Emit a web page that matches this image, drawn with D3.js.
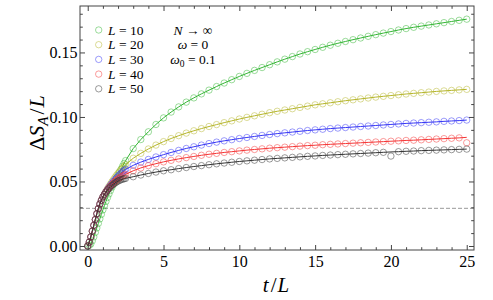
<!DOCTYPE html>
<html>
<head>
<meta charset="utf-8">
<script src="https://cdn.jsdelivr.net/npm/d3@7/dist/d3.min.js"></script>
<style>
  html, body { margin: 0; padding: 0; background: #fff; }
  svg { display: block; }
  svg text { font-family: "Liberation Serif", "DejaVu Serif", serif !important; }
</style>
</head>
<body>
<svg id="chart" width="493" height="300"></svg>
<script>
// ---------- DATA ----------
const tDense = [0, 0.1, 0.2, 0.3, 0.4, 0.5, 0.6, 0.7, 0.8, 0.9, 1.0, 1.1, 1.2, 1.3, 1.4, 1.5, 1.6, 1.7, 1.8, 1.9, 2.0, 2.1, 2.2, 2.3, 2.4];
const tSparse = [2.5, 3, 3.5, 4, 4.5, 5, 5.5, 6, 6.5, 7, 7.5, 8, 8.5, 9, 9.5, 10, 10.5, 11, 11.5, 12,
  12.5, 13, 13.5, 14, 14.5, 15, 15.5, 16, 16.5, 17, 17.5, 18, 18.5, 19, 19.5, 20, 20.5, 21, 21.5, 22,
  22.5, 23, 23.5, 24, 24.5, 25];

const seriesNames = ["L = 10", "L = 20", "L = 30", "L = 40", "L = 50"];
const seriesSizes = [10, 20, 30, 40, 50];

const valuesL10 = [0, 0.0005, 0.0015, 0.004, 0.007, 0.0105, 0.014, 0.0175, 0.021, 0.0245, 0.028, 0.0313, 0.0345, 0.0375, 0.0403, 0.043, 0.0455, 0.048, 0.0503, 0.0527, 0.055, 0.0572, 0.0595, 0.0618, 0.064,
  0.0662, 0.0755, 0.0825, 0.0885, 0.0942, 0.0993, 0.1038, 0.1078, 0.1115, 0.1148, 0.1179, 0.1208, 0.1236, 0.1263, 0.1289, 0.1314, 0.1338, 0.1361, 0.1383, 0.1405,
  0.1427, 0.1448, 0.1468, 0.1488, 0.1506, 0.1523, 0.154, 0.1556, 0.1571, 0.1585, 0.1599, 0.1612, 0.1625, 0.1638, 0.165, 0.1662, 0.1674, 0.1685, 0.1695, 0.1704,
  0.1713, 0.1722, 0.1731, 0.174, 0.1749, 0.1758];
const valuesL20 = [0, 0.003, 0.007, 0.0115, 0.016, 0.0205, 0.025, 0.029, 0.0325, 0.0355, 0.038, 0.0402, 0.0423, 0.0443, 0.0462, 0.048, 0.0498, 0.0515, 0.0532, 0.0548, 0.0563, 0.0577, 0.0591, 0.0604, 0.0617,
  0.063, 0.068, 0.0718, 0.0752, 0.0782, 0.0809, 0.0833, 0.0855, 0.0875, 0.0893, 0.091, 0.0926, 0.0941, 0.0956, 0.097, 0.0984, 0.0997, 0.1009, 0.1021, 0.1033,
  0.1044, 0.1054, 0.1064, 0.1074, 0.1084, 0.1094, 0.1102, 0.111, 0.1118, 0.1126, 0.1133, 0.114, 0.1147, 0.1154, 0.116, 0.1166, 0.1172, 0.1178, 0.1183, 0.1188,
  0.1193, 0.1198, 0.1202, 0.1206, 0.121, 0.1214];
const valuesL30 = [0, 0.003, 0.007, 0.0115, 0.016, 0.0205, 0.025, 0.029, 0.0325, 0.0355, 0.038, 0.0401, 0.042, 0.0438, 0.0455, 0.0471, 0.0486, 0.05, 0.0514, 0.0527, 0.054, 0.0552, 0.0564, 0.0575, 0.0585,
  0.0594, 0.0625, 0.065, 0.0671, 0.069, 0.0708, 0.0725, 0.0741, 0.0756, 0.0769, 0.0782, 0.0794, 0.0805, 0.0815, 0.0824, 0.0833, 0.0841, 0.0849, 0.0857, 0.0864,
  0.0871, 0.0877, 0.0883, 0.0889, 0.0895, 0.09, 0.0905, 0.091, 0.0914, 0.0918, 0.0922, 0.0926, 0.093, 0.0934, 0.0938, 0.0942, 0.0946, 0.095, 0.0953, 0.0956,
  0.0959, 0.0962, 0.0966, 0.0969, 0.0972, 0.0976];
const valuesL40 = [0, 0.003, 0.007, 0.0115, 0.016, 0.0205, 0.025, 0.029, 0.0325, 0.0355, 0.038, 0.04, 0.0418, 0.0435, 0.045, 0.0464, 0.0477, 0.0489, 0.05, 0.051, 0.0519, 0.0527, 0.0535, 0.0542, 0.0549,
  0.0555, 0.0583, 0.0605, 0.0623, 0.0638, 0.0652, 0.0664, 0.0675, 0.0685, 0.0694, 0.0703, 0.0711, 0.0718, 0.0725, 0.0731, 0.0737, 0.0743, 0.0748, 0.0753, 0.0758,
  0.0762, 0.0766, 0.077, 0.0774, 0.0778, 0.0781, 0.0785, 0.0788, 0.0791, 0.0794, 0.0797, 0.08, 0.0803, 0.0806, 0.0809, 0.0812, 0.0815, 0.0818, 0.082, 0.0823,
  0.0826, 0.0829, 0.0832, 0.0835, 0.0838, 0.0842];
const valuesL50 = [0, 0.003, 0.007, 0.0115, 0.016, 0.0205, 0.025, 0.029, 0.0325, 0.0355, 0.038, 0.04, 0.0417, 0.0432, 0.0446, 0.0458, 0.0469, 0.0479, 0.0488, 0.0496, 0.0503, 0.0509, 0.0514, 0.0518, 0.0521,
  0.0524, 0.0537, 0.055, 0.0562, 0.0573, 0.0583, 0.0591, 0.06, 0.0608, 0.0616, 0.0623, 0.063, 0.0637, 0.0643, 0.0649, 0.0655, 0.066, 0.0665, 0.067, 0.0675,
  0.0679, 0.0683, 0.0687, 0.0691, 0.0695, 0.0698, 0.0702, 0.0705, 0.0708, 0.0711, 0.0714, 0.0717, 0.072, 0.0723, 0.0726, 0.0729, 0.0731, 0.0734, 0.0736, 0.0739,
  0.0741, 0.0743, 0.0745, 0.0747, 0.0749, 0.0751];

// numerical glitches in the sampled points (markers only)
const markerOutliers = [
  { series: 3, t: 25, value: 0.080 },
  { series: 4, t: 20, value: 0.0697 }
];

const saturationLevel = 0.0292;   // dashed horizontal line
const xTickValues = [0, 5, 10, 15, 20, 25];
const yTickValues = [0.00, 0.05, 0.10, 0.15];

// ---------- LAYOUT ----------
const FONT = "'Liberation Serif', 'DejaVu Serif', serif";
const colors = ["#33b533", "#b5b52a", "#3535f5", "#f53535", "#333333"];
const svg = d3.select("#chart").attr("font-family", FONT);
const frame = { left: 80, right: 474, top: 6, bottom: 250 };
const x = d3.scaleLinear().domain([-0.51, 25.48]).range([frame.left, frame.right]);
const y = d3.scaleLinear().domain([-0.0031, 0.186]).range([frame.bottom, frame.top]);

const tAll = tDense.concat(tSparse);
const allValues = [valuesL10, valuesL20, valuesL30, valuesL40, valuesL50];
const series = allValues.map((vals, i) => ({
  name: seriesNames[i],
  size: seriesSizes[i],
  color: colors[i],
  points: tAll.map((t, j) => ({ t, v: vals[j] }))
}));

svg.append("defs").append("clipPath").attr("id", "clip")
  .append("rect").attr("x", frame.left).attr("y", frame.top)
  .attr("width", frame.right - frame.left).attr("height", frame.bottom - frame.top);

svg.append("line")
  .attr("x1", frame.left).attr("x2", frame.right)
  .attr("y1", y(saturationLevel)).attr("y2", y(saturationLevel))
  .attr("stroke", "#9a9a9a").attr("stroke-width", 1).attr("stroke-dasharray", "4,2");

const plot = svg.append("g").attr("clip-path", "url(#clip)");
const line = d3.line().x(d => x(d.t)).y(d => y(d.v));

series.forEach((s, i) => {
  const g = plot.append("g");
  g.selectAll("circle").data(s.points).enter().append("circle")
    .attr("cx", d => x(d.t))
    .attr("cy", d => {
      const o = markerOutliers.find(m => m.series === i && m.t === d.t);
      return y(o ? o.value : d.v);
    })
    .attr("r", 3.2)
    .attr("fill", "none")
    .attr("stroke", s.color)
    .attr("stroke-opacity", 0.55)
    .attr("stroke-width", 0.9);
  g.append("path").datum(s.points)
    .attr("d", line)
    .attr("fill", "none")
    .attr("stroke", s.color)
    .attr("stroke-width", 1);
});

svg.append("rect")
  .attr("x", frame.left).attr("y", frame.top)
  .attr("width", frame.right - frame.left).attr("height", frame.bottom - frame.top)
  .attr("fill", "none").attr("stroke", "#444").attr("stroke-width", 1);

const xMinor = d3.range(0, 26, 1).filter(v => v % 5 !== 0);
const yMinor = d3.range(0, 0.185, 0.01).filter(v => Math.round(v * 100) % 5 !== 0);

function styleAxis(g) {
  g.attr("font-family", FONT).attr("font-size", 16);
  g.select(".domain").remove();
  g.selectAll("line").attr("stroke", "#444");
  g.selectAll("text").attr("fill", "#000");
}

svg.append("g").attr("transform", `translate(0,${frame.bottom})`)
  .call(d3.axisBottom(x).tickValues(xTickValues).tickSize(-5).tickPadding(6).tickFormat(d3.format("d")))
  .call(styleAxis);
svg.append("g").attr("transform", `translate(0,${frame.bottom})`)
  .call(d3.axisBottom(x).tickValues(xMinor).tickSize(-2.8).tickFormat(""))
  .call(styleAxis);
svg.append("g").attr("transform", `translate(0,${frame.top})`)
  .call(d3.axisTop(x).tickValues(xTickValues).tickSize(-5).tickFormat(""))
  .call(styleAxis);
svg.append("g").attr("transform", `translate(0,${frame.top})`)
  .call(d3.axisTop(x).tickValues(xMinor).tickSize(-2.8).tickFormat(""))
  .call(styleAxis);
svg.append("g").attr("transform", `translate(${frame.left},0)`)
  .call(d3.axisLeft(y).tickValues(yTickValues).tickSize(-5).tickPadding(2.5).tickFormat(d3.format(".2f")))
  .call(styleAxis);
svg.append("g").attr("transform", `translate(${frame.left},0)`)
  .call(d3.axisLeft(y).tickValues(yMinor).tickSize(-2.8).tickFormat(""))
  .call(styleAxis);
svg.append("g").attr("transform", `translate(${frame.right},0)`)
  .call(d3.axisRight(y).tickValues(yTickValues).tickSize(-5).tickFormat(""))
  .call(styleAxis);
svg.append("g").attr("transform", `translate(${frame.right},0)`)
  .call(d3.axisRight(y).tickValues(yMinor).tickSize(-2.8).tickFormat(""))
  .call(styleAxis);

const xt = svg.append("text").attr("x", 276).attr("y", 292).attr("text-anchor", "middle")
  .style("font-size", "21px");
xt.append("tspan").style("font-style", "italic").text("t");
xt.append("tspan").attr("dx", 2).text("/");
xt.append("tspan").attr("dx", 1).style("font-style", "italic").text("L");

const yt = svg.append("text").attr("transform", "translate(44,123) rotate(-90)")
  .attr("text-anchor", "middle").style("font-size", "22px");
yt.append("tspan").text("Δ");
yt.append("tspan").style("font-style", "italic").text("S");
yt.append("tspan").style("font-style", "italic").style("font-size", "15px").attr("dy", 4).text("A");
yt.append("tspan").attr("dy", -4).attr("dx", 2).text("/");
yt.append("tspan").attr("dx", 1).style("font-style", "italic").text("L");

const legendRowY = [30, 44.7, 59.4, 74.1, 88.8];
series.forEach((s, i) => {
  svg.append("circle").attr("cx", 98.7).attr("cy", legendRowY[i]).attr("r", 3.2)
    .attr("fill", "none").attr("stroke", s.color).attr("stroke-opacity", 0.55).attr("stroke-width", 0.9);
  const t = svg.append("text").attr("x", 108).attr("y", legendRowY[i] + 4.5).style("font-size", "13.5px");
  t.append("tspan").style("font-style", "italic").text("L");
  t.append("tspan").text(" = " + s.size);
});

const annX = 193;
const a1 = svg.append("text").attr("x", annX).attr("y", 34.5).attr("text-anchor", "middle").style("font-size", "13.5px");
a1.append("tspan").style("font-style", "italic").text("N");
a1.append("tspan").text(" → ∞");
const a2 = svg.append("text").attr("x", annX).attr("y", 49).attr("text-anchor", "middle").style("font-size", "13.5px");
a2.append("tspan").style("font-style", "italic").text("ω");
a2.append("tspan").text(" = 0");
const a3 = svg.append("text").attr("x", annX).attr("y", 63.8).attr("text-anchor", "middle").style("font-size", "13.5px");
a3.append("tspan").style("font-style", "italic").text("ω");
a3.append("tspan").style("font-size", "9.5px").attr("dy", 3).text("0");
a3.append("tspan").attr("dy", -3).text(" = 0.1");
</script>
</body>
</html>
